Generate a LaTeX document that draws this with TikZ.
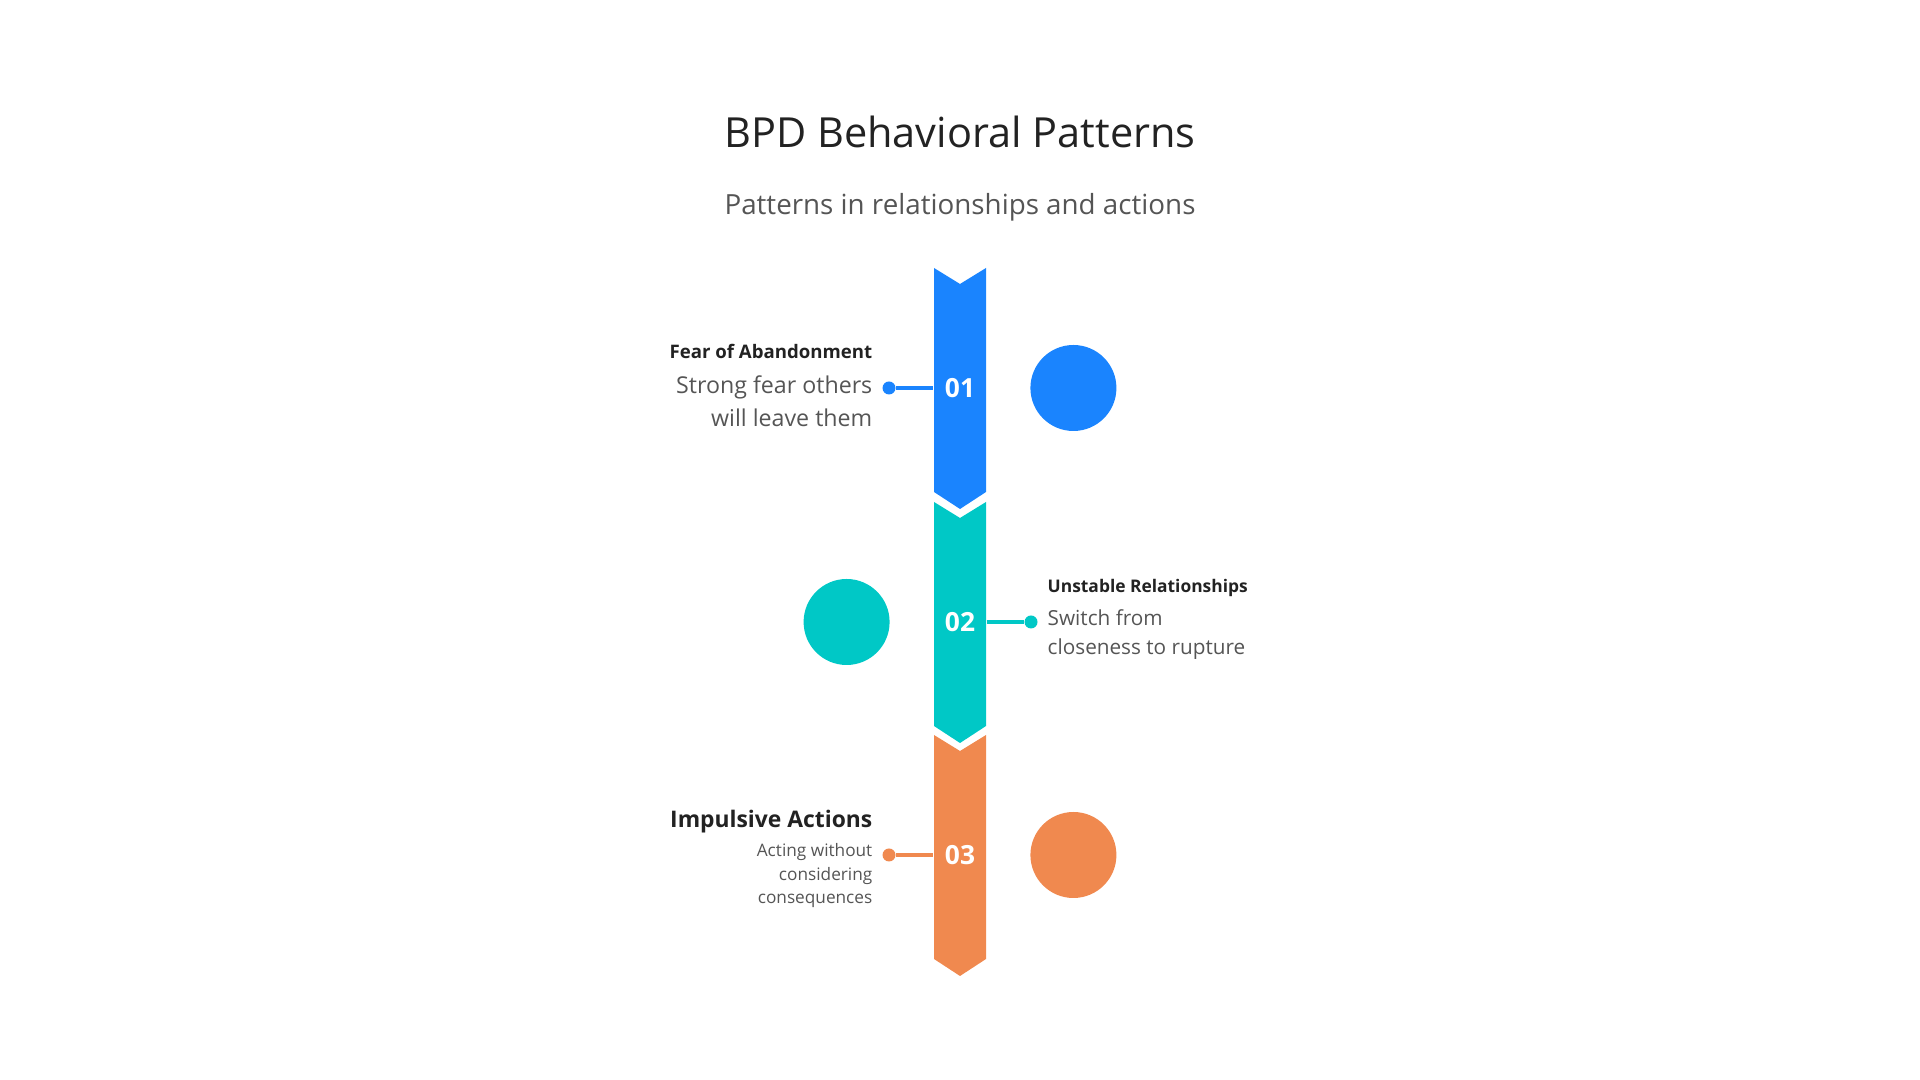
\documentclass[tikz,border=0pt]{standalone}
\usepackage{fontspec}
\setmainfont{Open Sans}
\usetikzlibrary{positioning}

\definecolor{bpdblue}{HTML}{1A84FE}
\definecolor{bpdteal}{HTML}{00C8C6}
\definecolor{bpdorange}{HTML}{F0894F}
\definecolor{headgray}{HTML}{222222}
\definecolor{descgray}{HTML}{555555}

\begin{document}
\begin{tikzpicture}[
    seg/.style={minimum width=0.52cm, minimum height=2.08cm, inner sep=0, text=white, font=\bfseries\fontsize{7.5}{9}\selectfont},
    dot/.style={circle, fill, inner sep=0, minimum size=0.13cm},
    blob/.style={circle, fill, inner sep=0, minimum size=0.86cm},
    head/.style={inner sep=0, text=headgray},
    desc/.style={inner sep=0, text=descgray},
    link/.style={line width=1pt}
]
    \useasboundingbox (0,0) rectangle (19.2,10.8);

    % Title
    \node[anchor=base, text=headgray, font=\fontsize{11.8}{14}\selectfont] (title) at (9.6,9.32) {BPD Behavioral Patterns};
    \node[anchor=base, text=descgray, font=\fontsize{7.9}{10}\selectfont] (subtitle) at (9.6,8.65) {Patterns in relationships and actions};

    % Chevron column with the numbers
    \foreach \i/\y/\col in {1/6.92/bpdblue, 2/4.58/bpdteal, 3/2.25/bpdorange} {
        \fill[\col] (9.34,\y+1.20) -- (9.60,\y+1.04) -- (9.86,\y+1.20) -- (9.86,\y-1.04)
            -- (9.60,\y-1.21) -- (9.34,\y-1.04) -- cycle;
        \node[seg] (n\i) at (9.6,\y) {0\i};
    }

    % Row 1
    \node[blob, bpdblue, right=0.43cm of n1] (c1) {};
    \node[dot, bpdblue] (d1) at (8.89,6.92) {};
    \draw[link, bpdblue] (d1) -- (n1);
    \node[head, anchor=base east, font=\bfseries\fontsize{5.3}{7}\selectfont] (h1) at (8.73,7.21) {Fear of Abandonment};
    \node[desc, anchor=base east, align=right, font=\fontsize{6.6}{9.4}\selectfont] (t1) at (8.73,6.53) {Strong fear others\\will leave them};

    % Row 2
    \node[blob, bpdteal, left=0.43cm of n2] (c2) {};
    \node[dot, bpdteal] (d2) at (10.31,4.58) {};
    \draw[link, bpdteal] (n2) -- (d2);
    \node[head, anchor=base west, font=\bfseries\fontsize{4.95}{7}\selectfont] (h2) at (10.47,4.87) {Unstable Relationships};
    \node[desc, anchor=base west, align=left, font=\fontsize{5.9}{8.3}\selectfont] (t2) at (10.47,4.25) {Switch from\\closeness to rupture};

    % Row 3
    \node[blob, bpdorange, right=0.43cm of n3] (c3) {};
    \node[dot, bpdorange] (d3) at (8.89,2.25) {};
    \draw[link, bpdorange] (d3) -- (n3);
    \node[head, anchor=base east, font=\bfseries\fontsize{6.5}{8}\selectfont] (h3) at (8.73,2.52) {Impulsive Actions};
    \node[desc, anchor=base east, align=right, font=\fontsize{4.9}{6.8}\selectfont] (t3) at (8.73,1.76) {Acting without\\considering\\consequences};
\end{tikzpicture}
\end{document}
